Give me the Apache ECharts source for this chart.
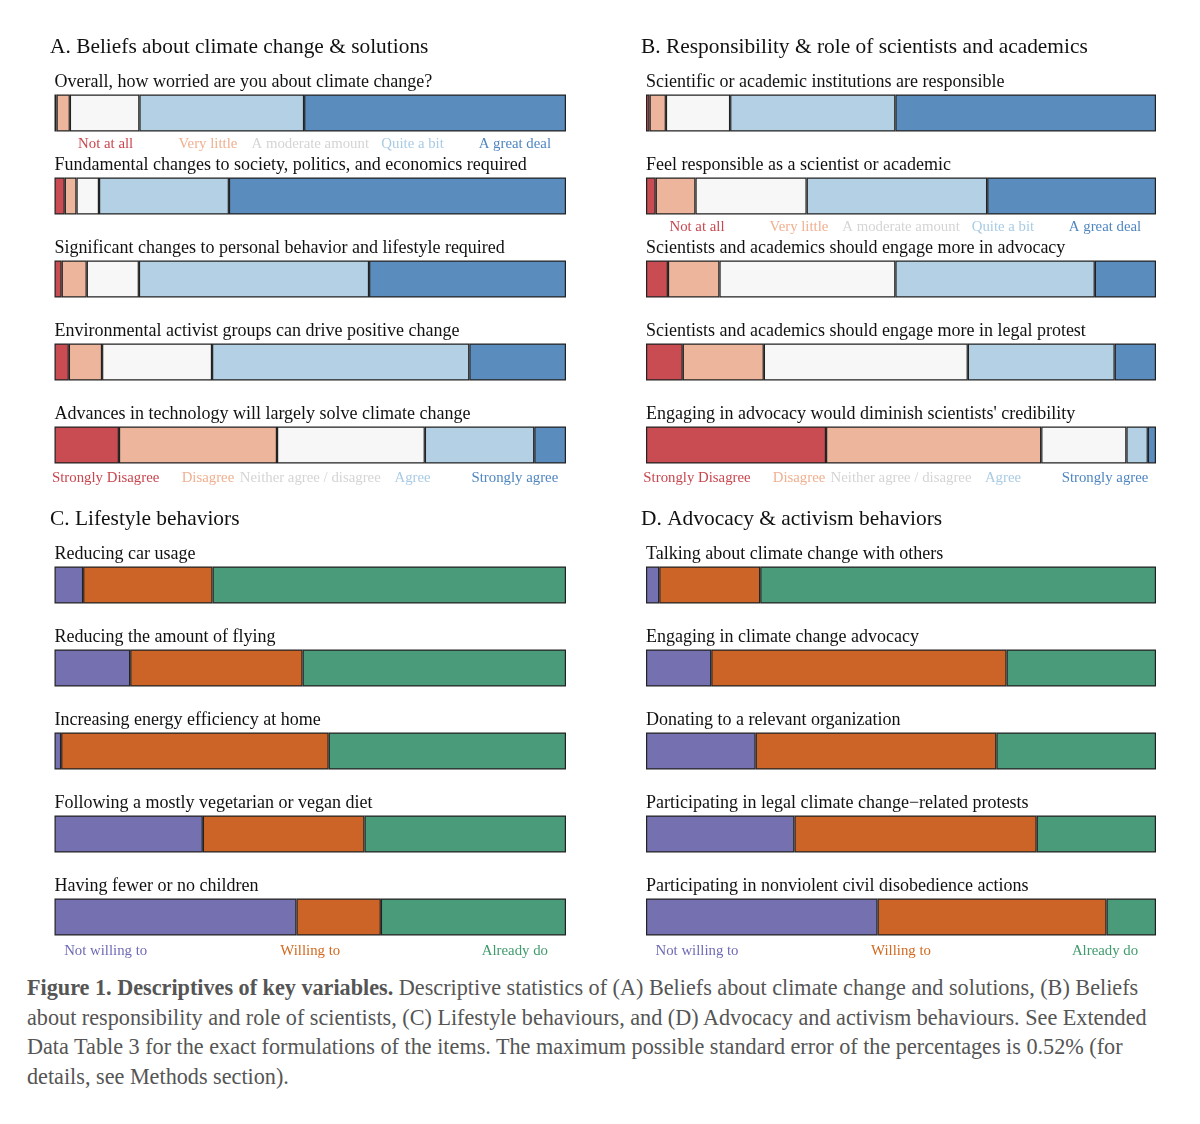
<!DOCTYPE html>
<html>
<head>
<meta charset="utf-8">
<script src="https://cdn.jsdelivr.net/npm/echarts@6/dist/echarts.min.js"></script>
<style>
  html, body { margin: 0; padding: 0; background: #fff; }
  #chart { width: 1200px; height: 965px; }
  #caption { position: absolute; left: 27px; top: 973px; width: 1170px; font-family: 'Liberation Serif', 'Times New Roman', serif; font-size: 22.2px; line-height: 29.5px; color: #555; white-space: nowrap; }
  #caption b { color: #555; }
</style>
</head>
<body>
<div id="chart"></div>
<div id="caption"><b>Figure 1. Descriptives of key variables.</b> Descriptive statistics of (A) Beliefs about climate change and solutions, (B) Beliefs<br>about responsibility and role of scientists, (C) Lifestyle behaviours, and (D) Advocacy and activism behaviours. See Extended<br>Data Table 3 for the exact formulations of the items. The maximum possible standard error of the percentages is 0.52% (for<br>details, see Methods section).</div>
<script>
// ---------- DATA ----------
const panelTitles = [
  'A. Beliefs about climate change & solutions',
  'B. Responsibility & role of scientists and academics',
  'C. Lifestyle behaviors',
  'D. Advocacy & activism behaviors'
];

const questionsA = [
  'Overall, how worried are you about climate change?',
  'Fundamental changes to society, politics, and economics required',
  'Significant changes to personal behavior and lifestyle required',
  'Environmental activist groups can drive positive change',
  'Advances in technology will largely solve climate change'
];
const questionsB = [
  'Scientific or academic institutions are responsible',
  'Feel responsible as a scientist or academic',
  'Scientists and academics should engage more in advocacy',
  'Scientists and academics should engage more in legal protest',
  "Engaging in advocacy would diminish scientists' credibility"
];
const questionsC = [
  'Reducing car usage',
  'Reducing the amount of flying',
  'Increasing energy efficiency at home',
  'Following a mostly vegetarian or vegan diet',
  'Having fewer or no children'
];
const questionsD = [
  'Talking about climate change with others',
  'Engaging in climate change advocacy',
  'Donating to a relevant organization',
  'Participating in legal climate change\u2212related protests',
  'Participating in nonviolent civil disobedience actions'
];

const worryScale = ['Not at all', 'Very little', 'A moderate amount', 'Quite a bit', 'A great deal'];
const agreeScale = ['Strongly Disagree', 'Disagree', 'Neither agree / disagree', 'Agree', 'Strongly agree'];
const willScale = ['Not willing to', 'Willing to', 'Already do'];

// Panel A: percentages per level (levels 1..5), one value per question
const aLevel1 = [0.4, 2.0, 1.4, 2.8, 12.6];
const aLevel2 = [2.6, 2.3, 4.9, 6.5, 30.9];
const aLevel3 = [13.6, 4.4, 10.2, 21.5, 28.9];
const aLevel4 = [32.2, 25.4, 45.0, 50.3, 21.4];
const aLevel5 = [51.2, 65.9, 38.5, 18.9, 6.2];

// Panel B
const bLevel1 = [0.7, 1.9, 4.3, 7.2, 35.3];
const bLevel2 = [3.2, 7.8, 10.1, 15.9, 42.2];
const bLevel3 = [12.6, 21.8, 34.5, 40.0, 16.7];
const bLevel4 = [32.4, 35.4, 39.1, 28.8, 4.2];
const bLevel5 = [51.1, 33.1, 12.0, 8.1, 1.6];

// Panel C
const cNotWilling = [5.6, 14.8, 1.3, 29.0, 47.3];
const cWilling = [25.3, 33.7, 52.3, 31.6, 16.5];
const cAlready = [69.1, 51.5, 46.4, 39.4, 36.2];

// Panel D
const dNotWilling = [2.6, 12.8, 21.5, 29.1, 45.4];
const dWilling = [19.8, 57.9, 47.2, 47.5, 44.9];
const dAlready = [77.6, 29.3, 31.3, 23.4, 9.7];

// ---------- STYLE ----------
const FONT = "'Liberation Serif', 'Times New Roman', serif";
const likertColors = ['#c94c52', '#edb59c', '#f7f7f7', '#b3d0e4', '#5a8cbd'];
const likertTextColors = ['#c8474f', '#f0b090', '#d4d4d4', '#a9cbe4', '#4f86c0'];
const willColors = ['#7571b1', '#cc6428', '#4a9b7a'];
const willTextColors = ['#6e6ab5', '#d2691e', '#3f9a6c'];

const grids = [
  { left: 54.5, right: 634, top: 71.5, height: 415 },
  { left: 646, right: 44, top: 71.5, height: 415 },
  { left: 54.5, right: 634, top: 543.5, height: 415 },
  { left: 646, right: 44, top: 543.5, height: 415 }
];
const questionSets = [questionsA, questionsB, questionsC, questionsD];
const panelSeries = [
  [aLevel1, aLevel2, aLevel3, aLevel4, aLevel5],
  [bLevel1, bLevel2, bLevel3, bLevel4, bLevel5],
  [cNotWilling, cWilling, cAlready],
  [dNotWilling, dWilling, dAlready]
];

const chart = echarts.init(document.getElementById('chart'), null, { renderer: 'canvas' });

const xAxes = grids.map((g, i) => ({
  gridIndex: i, type: 'value', min: 0, max: 100, show: false
}));
const yAxes = grids.map((g, i) => ({
  gridIndex: i, type: 'category', inverse: true, data: questionSets[i],
  axisLine: { show: false }, axisTick: { show: false }, splitLine: { show: false },
  axisLabel: {
    inside: true, interval: 0, margin: 0, align: 'left', verticalAlign: 'bottom',
    padding: [0, 0, 22, 0], fontFamily: FONT, fontSize: 18, color: '#111'
  },
  z: 10
}));

const series = [];
panelSeries.forEach((levels, pi) => {
  const colors = levels.length === 5 ? likertColors : willColors;
  levels.forEach((vals, li) => {
    series.push({
      type: 'bar', xAxisIndex: pi, yAxisIndex: pi, stack: 'p' + pi,
      data: vals, barWidth: 37,
      itemStyle: { color: colors[li], borderColor: '#222', borderWidth: 1.2 },
      emphasis: { disabled: true }, silent: true, animation: false
    });
  });
});

const titles = [
  { text: panelTitles[0], left: 50, top: 37 },
  { text: panelTitles[1], left: 641, top: 37 },
  { text: panelTitles[2], left: 50, top: 509 },
  { text: panelTitles[3], left: 641, top: 509 }
].map(t => Object.assign(t, { padding: 0, textStyle: { fontFamily: FONT, fontSize: 21.4, fontWeight: 'normal', color: '#111' } }));

chart.setOption({
  animation: false,
  backgroundColor: '#fff',
  title: titles,
  grid: grids,
  xAxis: xAxes,
  yAxis: yAxes,
  series: series
});

// scale-label placements: panel, row, labels, colors, positions (in % of axis)
const placements = [
  { p: 0, row: 0, labels: worryScale, colors: likertTextColors, pos: [10, 30, 50, 70, 90], dy: 31.5 },
  { p: 0, row: 4, labels: agreeScale, colors: likertTextColors, pos: [10, 30, 50, 70, 90], dy: 33 },
  { p: 1, row: 1, labels: worryScale, colors: likertTextColors, pos: [10, 30, 50, 70, 90], dy: 31.5 },
  { p: 1, row: 4, labels: agreeScale, colors: likertTextColors, pos: [10, 30, 50, 70, 90], dy: 33 },
  { p: 2, row: 4, labels: willScale, colors: willTextColors, pos: [10, 50, 90], dy: 34 },
  { p: 3, row: 4, labels: willScale, colors: willTextColors, pos: [10, 50, 90], dy: 34 }
];
const graphics = [];
placements.forEach(pl => {
  const cy = chart.convertToPixel({ yAxisIndex: pl.p }, questionSets[pl.p][pl.row]);
  pl.labels.forEach((lab, i) => {
    const x = chart.convertToPixel({ xAxisIndex: pl.p }, pl.pos[i]);
    graphics.push({
      type: 'text', x: x, y: cy + pl.dy,
      style: { text: lab, fill: pl.colors[i], font: '14.8px ' + FONT, textAlign: 'center', textVerticalAlign: 'middle' },
      silent: true
    });
  });
});
chart.setOption({ graphic: graphics });
</script>
</body>
</html>
